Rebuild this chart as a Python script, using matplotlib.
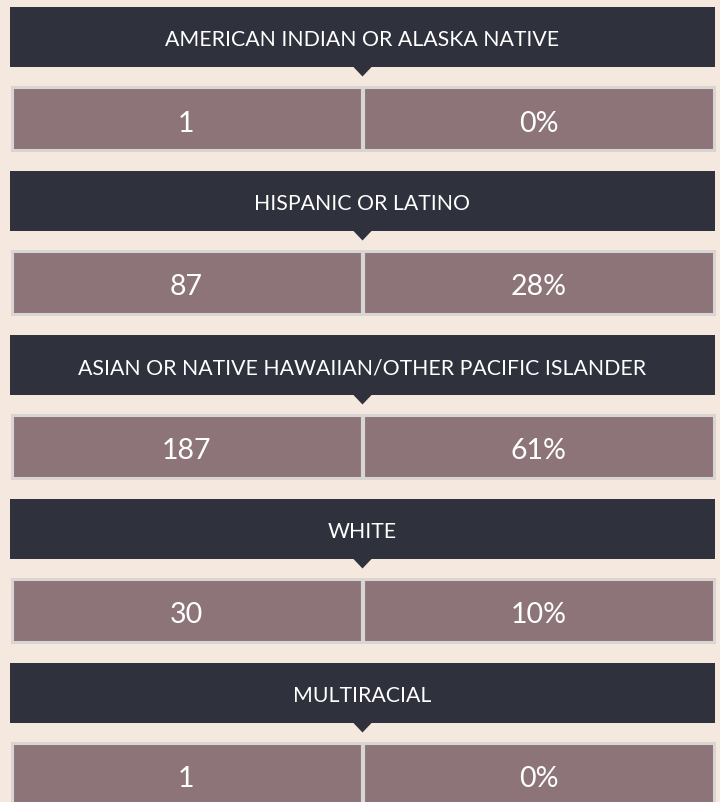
import matplotlib.pyplot as plt
from matplotlib.patches import Rectangle, Polygon

# data
groups = ["AMERICAN INDIAN OR ALASKA NATIVE", "HISPANIC OR LATINO",
          "ASIAN OR NATIVE HAWAIIAN/OTHER PACIFIC ISLANDER", "WHITE", "MULTIRACIAL"]
counts = [1, 87, 187, 30, 1]
percents = [0, 28, 61, 10, 0]

# colours
bg = "#f5e8df"
head_col = "#2f323d"
cell_col = "#8c7478"
border_col = "#d8d5d3"

W, H = 720, 803
fig = plt.figure(figsize=(W / 100, H / 100), dpi=100, facecolor=bg)
ax = fig.add_axes([0, 0, 1, 1])
ax.set_xlim(0, W)
ax.set_ylim(H, 0)
ax.axis("off")
ax.set_facecolor(bg)

left, right = 10, 715
mid = (left + right) / 2
step = 164
head_h = 60
row_top = 79  # offset from header top
row_h = 66

for i, (g, n, p) in enumerate(zip(groups, counts, percents)):
    y0 = 7.5 + i * step
    # header band with little pointer
    ax.add_patch(Rectangle((left, y0), right - left, head_h, color=head_col, lw=0))
    ax.add_patch(Polygon([(mid - 10, y0 + head_h - 0.5), (mid + 10, y0 + head_h - 0.5),
                          (mid, y0 + head_h + 10)], closed=True, color=head_col, lw=0))
    ax.text(mid, y0 + head_h / 2 + 3, g, color="white", fontsize=15.3,
            family="Lato", ha="center", va="center")

    # value row
    ry = y0 + row_top
    ax.add_patch(Rectangle((left + 1.5, ry + 1.5), right - left - 3, row_h - 3,
                           facecolor=cell_col, edgecolor=border_col, lw=2.2))
    ax.plot([mid, mid], [ry + 1.5, ry + row_h - 1.5], color=border_col, lw=3,
            solid_capstyle="butt")
    ax.text((left + mid) / 2, ry + row_h / 2 + 4, str(n), color="white",
            fontsize=20.5, family="Lato", ha="center", va="center")
    ax.text((mid + right) / 2, ry + row_h / 2 + 4, f"{p}%", color="white",
            fontsize=20.5, family="Lato", ha="center", va="center")

fig.savefig("out.png", dpi=100, facecolor=bg)
